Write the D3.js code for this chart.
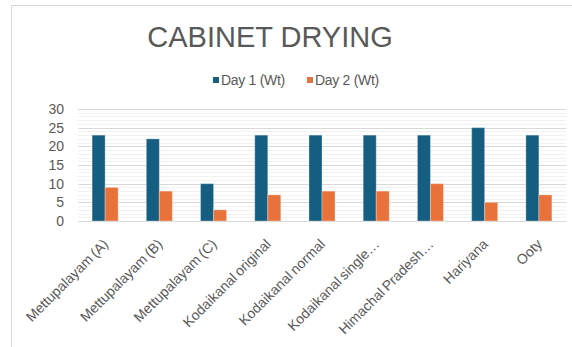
<!DOCTYPE html>
<html>
<head>
<meta charset="utf-8">
<script src="https://cdn.jsdelivr.net/npm/d3@7"></script>
<style>
  html, body { margin: 0; padding: 0; background: #fff; }
  svg { display: block; font-family: "Liberation Sans", Arial, sans-serif; }
</style>
</head>
<body>
<svg id="chart" width="572" height="347"></svg>
<script>
// Chart data
const categories = [
  "Mettupalayam (A)", "Mettupalayam (B)", "Mettupalayam (C)",
  "Kodaikanal original", "Kodaikanal normal", "Kodaikanal single…",
  "Himachal Pradesh…", "Hariyana", "Ooty"
];
const day1 = [23, 22, 10, 23, 23, 23, 23, 25, 23];
const day2 = [9, 8, 3, 7, 8, 8, 10, 5, 7];
const seriesNames = ["Day 1 (Wt)", "Day 2 (Wt)"];
const yTicks = [0, 5, 10, 15, 20, 25, 30];

const colors = ["#165e81", "#e9723a"];
const textColor = "#595959";

const svg = d3.select("#chart");

// Chart frame
svg.append("rect")
  .attr("x", 11.5).attr("y", 5.5)
  .attr("width", 700).attr("height", 500)
  .attr("fill", "#fff")
  .attr("stroke", "#d9d9d9")
  .attr("stroke-width", 1);

// Title
svg.append("text")
  .attr("x", 270).attr("y", 47)
  .attr("text-anchor", "middle")
  .attr("fill", textColor)
  .style("font-size", "29px")
  .text("CABINET DRYING");

// Plot area
const plotLeft = 78, plotRight = 566, plotTop = 109, plotBottom = 221;

const y = d3.scaleLinear().domain([0, 30]).range([plotBottom, plotTop]);
const x0 = d3.scaleBand().domain(categories).range([plotLeft, plotRight])
  .paddingInner(0.52).paddingOuter(0.26);
const x1 = d3.scaleBand().domain([0, 1]).range([0, x0.bandwidth()]);

// Minor gridlines
const minor = d3.range(0, 31).filter(v => v % 5 !== 0);
svg.append("g").selectAll("line").data(minor).join("line")
  .attr("x1", plotLeft).attr("x2", plotRight)
  .attr("y1", d => Math.round(y(d)) + 0.5).attr("y2", d => Math.round(y(d)) + 0.5)
  .attr("stroke", "#f1f1f1");

// Major gridlines
svg.append("g").selectAll("line").data(yTicks).join("line")
  .attr("x1", plotLeft).attr("x2", plotRight)
  .attr("y1", d => Math.round(y(d)) + 0.5).attr("y2", d => Math.round(y(d)) + 0.5)
  .attr("stroke", "#d9d9d9");

// Y axis labels
const yAxis = d3.axisLeft(y).tickValues(yTicks).tickSize(0).tickPadding(0);
const gy = svg.append("g").attr("transform", `translate(64,0)`).call(yAxis);
gy.select(".domain").remove();
gy.selectAll("text")
  .attr("fill", textColor)
  .style("font-size", "14px")
  .style("font-family", "Liberation Sans, Arial, sans-serif");

// Bars
const series = [day1, day2];
const groups = svg.append("g").selectAll("g").data(categories).join("g")
  .attr("transform", d => `translate(${x0(d)},0)`);
groups.selectAll("rect")
  .data((d, i) => series.map((s, k) => ({ k, v: s[i] })))
  .join("rect")
  .attr("x", d => x1(d.k))
  .attr("width", x1.bandwidth())
  .attr("y", d => y(d.v))
  .attr("height", d => y(0) - y(d.v))
  .attr("fill", d => colors[d.k])
  .attr("stroke", "#ffffff")
  .attr("stroke-opacity", 0.3)
  .attr("stroke-width", 1);

// Category labels, rotated
svg.append("g").selectAll("text").data(categories).join("text")
  .attr("transform", d => `translate(${x0(d) + x0.bandwidth() / 2 - 3},238) rotate(-45)`)
  .attr("text-anchor", "end")
  .attr("dy", "0.71em")
  .attr("fill", textColor)
  .style("font-size", "14px")
  .style("word-spacing", "-1px")
  .text(d => d);

// Legend
const legendX = [213, 307];
const legend = svg.append("g").selectAll("g").data(seriesNames).join("g")
  .attr("transform", (d, i) => `translate(${legendX[i]},0)`);
legend.append("rect")
  .attr("x", 0).attr("y", 77).attr("width", 6).attr("height", 6)
  .attr("fill", (d, i) => colors[i]);
legend.append("text")
  .attr("x", 8).attr("y", 85)
  .attr("fill", textColor)
  .style("font-size", "14px")
  .style("letter-spacing", "-0.3px")
  .text(d => d);
</script>
</body>
</html>
